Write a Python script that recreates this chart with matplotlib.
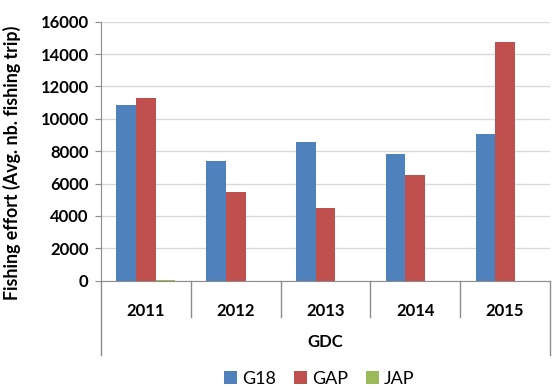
import matplotlib
matplotlib.use("Agg")
import matplotlib.pyplot as plt
import matplotlib.transforms as mtransforms
import numpy as np

years = ["2011", "2012", "2013", "2014", "2015"]
series_names = ["G18", "GAP", "JAP"]
g18 = [10880, 7420, 8550, 7850, 9050]
gap = [11300, 5460, 4470, 6510, 14750]
jap = [50, 0, 0, 0, 0]
colors = ["#4F81BD", "#C0504D", "#9BBB59"]

plt.rcParams['font.family'] = ['Lato', 'DejaVu Sans']

W, H = 553, 390
fig = plt.figure(figsize=(W / 100, H / 100), dpi=100)
left, right, top, bottom = 101, 550, 21.7, 280.7
ax = fig.add_axes([left / W, 1 - bottom / H, (right - left) / W, (bottom - top) / H])

x = np.arange(len(years))
bw = 0.219
for i, (vals, name, c) in enumerate(zip([g18, gap, jap], series_names, colors)):
    ax.bar(x + (i - 1) * bw, vals, width=bw, color=c, label=name, zorder=3)

ax.set_xlim(-0.5, len(years) - 0.5)
ax.set_ylim(0, 16000)
ax.set_yticks(np.arange(0, 16001, 2000))
ax.yaxis.grid(True, color="#D9D9D9", linewidth=1, zorder=0)
ax.set_axisbelow(True)
for s in ["top", "right"]:
    ax.spines[s].set_visible(False)
for s in ["left", "bottom"]:
    ax.spines[s].set_color("#8C8C8C")
ax.tick_params(axis="y", length=4, color="#8C8C8C", labelsize=12, pad=5)
for t in ax.get_yticklabels():
    t.set_fontweight("bold")

ax.set_xticks(x)
ax.set_xticklabels(years, fontsize=12, fontweight="bold")
ax.tick_params(axis="x", length=0, pad=16)

h_ax = bottom - top
ax.set_ylabel("Fishing effort (Avg. nb. fishing trip)", fontsize=12.8,
              fontweight="bold")
ax.yaxis.set_label_coords(-(left - 21) / (right - left), (bottom - 163) / h_ax)

trans = mtransforms.blended_transform_factory(ax.transData, ax.transAxes)
sep_bottom = -(316.7 - bottom) / h_ax
outer_bottom = -(355 - bottom) / h_ax
for b in np.arange(-0.5, len(years), 1.0):
    yb = outer_bottom if b in (-0.5, len(years) - 0.5) else sep_bottom
    ax.plot([b, b], [0, yb], transform=trans, color="#8C8C8C", lw=1, clip_on=False)

ax.text(0.5, -(342 - bottom) / h_ax, "GDC", transform=ax.transAxes,
        ha="center", va="center", fontsize=12, fontweight="bold")

leg = fig.legend(loc="center", bbox_to_anchor=(319 / W, 1 - 379 / H), ncol=3,
                 frameon=False, fontsize=13, handlelength=0.75, handleheight=0.75,
                 handletextpad=0.25, columnspacing=1.0, borderpad=0)

fig.savefig("out.png", dpi=100)
